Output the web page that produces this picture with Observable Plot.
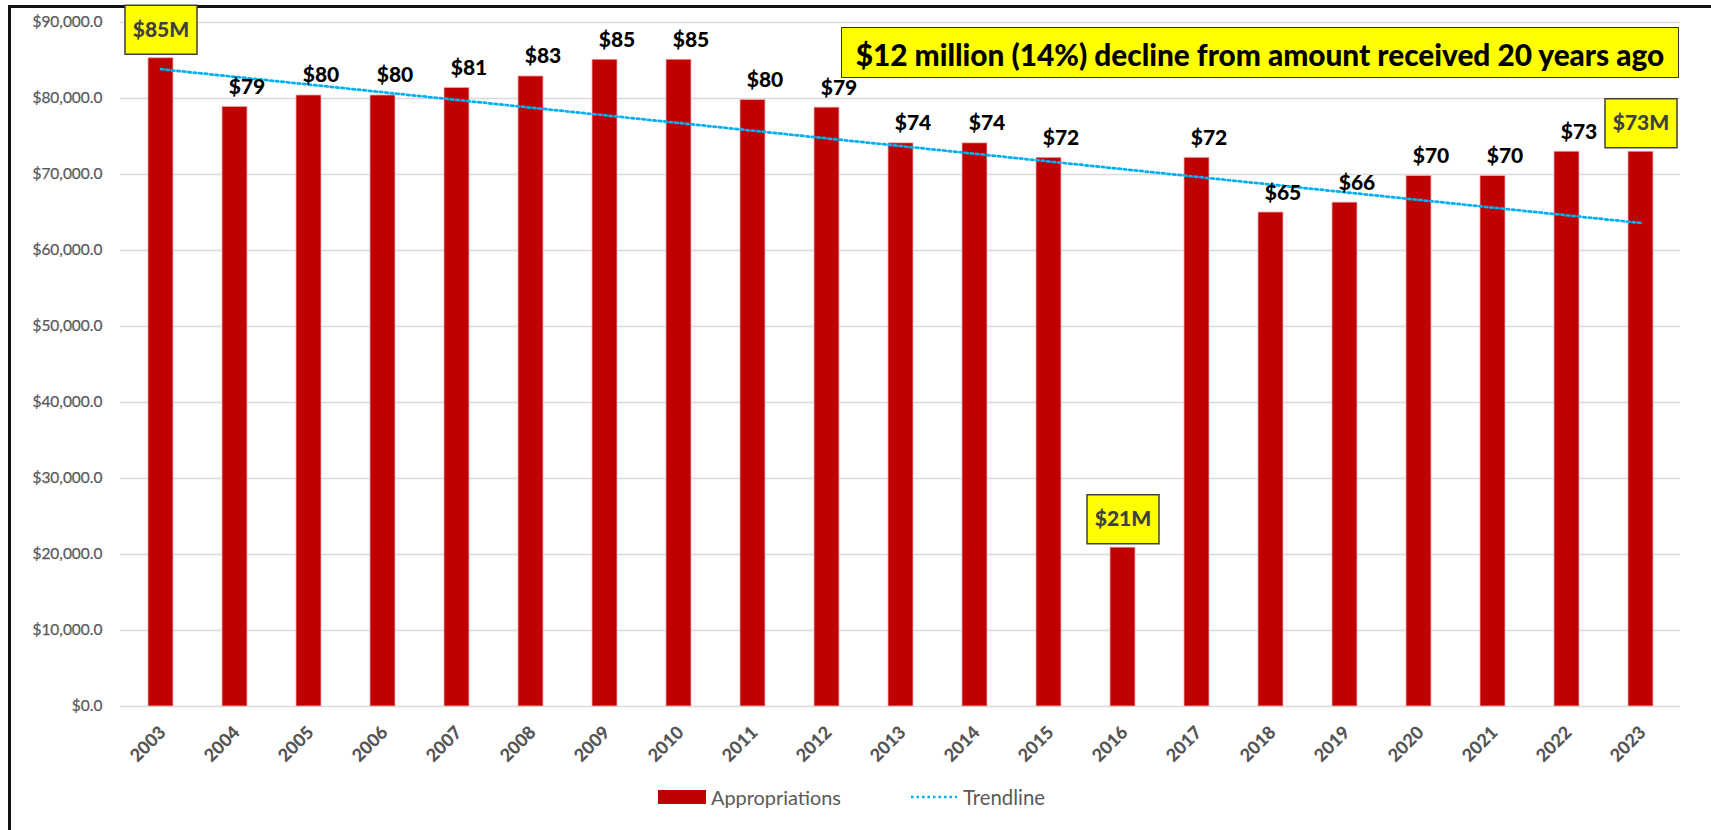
<!DOCTYPE html>
<html>
<head>
<meta charset="utf-8">
<script src="https://cdn.jsdelivr.net/npm/d3@7"></script>
<script src="https://cdn.jsdelivr.net/npm/@observablehq/plot@0.6"></script>
<style>
  html, body { margin: 0; padding: 0; background: #fff; }
  body { width: 1711px; height: 830px; overflow: hidden; position: relative; font-family: Lato, "Open Sans", sans-serif; }
  #frame { position: absolute; left: 8px; top: 5px; right: -20px; bottom: -20px; border-top: 3px solid #111; border-left: 3px solid #111; }
  #chart { position: absolute; left: 0; top: 0; }
  #title { position: absolute; left: 841px; top: 27px; width: 836px; height: 46px; background: #FFFF00; border: 1.5px solid #333;
           display: flex; align-items: center; justify-content: center; padding-top: 3px; box-sizing: content-box; }
  #title span { font-weight: 900; color: #000; white-space: nowrap; font-size: 26px; }
  .leg { position: absolute; white-space: nowrap; color: #595959; font-size: 17px; line-height: 20px; }
  .swatch { position: absolute; }
</style>
</head>
<body>
<div id="frame"></div>
<div id="chart"></div>
<div id="title"><span data-w="809"></span></div>
<div id="legend"></div>
<script>
const years = ["2003","2004","2005","2006","2007","2008","2009","2010","2011","2012","2013","2014","2015","2016","2017","2018","2019","2020","2021","2022","2023"];
const appropriations = [85300, 78900, 80400, 80400, 81400, 82900, 85100, 85100, 79800, 78800, 74100, 74100, 72200, 20900, 72200, 65000, 66300, 69800, 69800, 73000, 73000];
const highlightYears = ["2003", "2016", "2023"];
const yTicks = [0, 10000, 20000, 30000, 40000, 50000, 60000, 70000, 80000, 90000];
const seriesNames = ["Appropriations", "Trendline"];
const titleText = "$12 million (14%) decline from amount received 20 years ago";

const data = years.map((year, i) => ({year, value: appropriations[i], i}));

// Linear trendline (least squares fit of the appropriations over the years)
const mx = d3.mean(data, d => d.i), my = d3.mean(data, d => d.value);
const slope = d3.sum(data, d => (d.i - mx) * (d.value - my)) / d3.sum(data, d => (d.i - mx) ** 2);
const intercept = my - slope * mx;
const trend = data.map(d => ({year: d.year, value: intercept + slope * d.i}));

const normal = data.filter(d => !highlightYears.includes(d.year));
const highlighted = data.filter(d => highlightYears.includes(d.year));
const fmtTick = d => "$" + d3.format(",.1f")(d);
const fmtLabel = d => "$" + Math.round(d.value / 1000);

const boxSymbol = { draw(ctx) { ctx.rect(-36, -53, 72, 49); } };

const chart = Plot.plot({
  width: 1711,
  height: 780,
  marginLeft: 120,
  marginRight: 31,
  marginTop: 22,
  marginBottom: 74,
  style: { fontFamily: "Lato, 'Open Sans', sans-serif", background: "transparent", overflow: "visible" },
  x: { domain: years, paddingInner: 0.665, paddingOuter: 0.3325, axis: null },
  y: { domain: [0, 90000], axis: null },
  marks: [
    Plot.ruleY(yTicks, { stroke: "#d9d9d9", strokeWidth: 1.5 }),
    Plot.text(yTicks, { y: d => d, frameAnchor: "left", text: fmtTick, textAnchor: "end", dx: -18, fill: "#595959", fontSize: 15.5, stroke: "#595959", strokeWidth: 0.25 }),
    Plot.barY(data, { x: "year", y: "value", fill: "#C00000", stroke: "#f0b0b0", strokeWidth: 0.8 }),
    Plot.line(trend, { x: "year", y: "value", stroke: "#00B0F0", strokeWidth: 2.75, strokeDasharray: "2.5 3" }),
    Plot.text(normal, { x: "year", y: "value", text: fmtLabel, lineAnchor: "bottom", dy: -13, dx: 12, fill: "#000", fontSize: 21, fontWeight: 900 }),
    Plot.dot(highlighted, { x: "year", y: "value", symbol: boxSymbol, fill: "#FFFF00", stroke: "#404040", strokeWidth: 1.5 }),
    Plot.text(highlighted, { x: "year", y: "value", text: d => fmtLabel(d) + "M", lineAnchor: "middle", dy: -28, fill: "#404040", fontSize: 21, fontWeight: 900 }),
    Plot.text(years, { x: d => d, frameAnchor: "bottom", text: d => d, rotate: -45, textAnchor: "end", lineAnchor: "bottom", dx: 6, dy: 27, fill: "#555", fontSize: 18, fontWeight: 900 })
  ]
});
document.getElementById("chart").appendChild(chart);

// Title
document.querySelector("#title span").textContent = titleText;

// Legend
const legend = document.getElementById("legend");
legend.innerHTML = `
  <div class="swatch" style="left:658px;top:790px;width:48px;height:14px;background:#C00000;"></div>
  <div class="leg" style="left:711px;top:787px;" data-w="130">${seriesNames[0]}</div>
  <svg class="swatch" style="left:911px;top:793px;" width="46" height="8"><line x1="0" y1="4" x2="46" y2="4" stroke="#00B0F0" stroke-width="2.5" stroke-dasharray="2.5 3"/></svg>
  <div class="leg" style="left:963px;top:787px;" data-w="82">${seriesNames[1]}</div>`;

// Fit text widths to the reference's measured widths
document.querySelectorAll("[data-w]").forEach(el => {
  const target = +el.dataset.w;
  const fs = parseFloat(getComputedStyle(el).fontSize);
  const w = el.getBoundingClientRect().width;
  if (w > 0) el.style.fontSize = (fs * target / w) + "px";
});
</script>
</body>
</html>
